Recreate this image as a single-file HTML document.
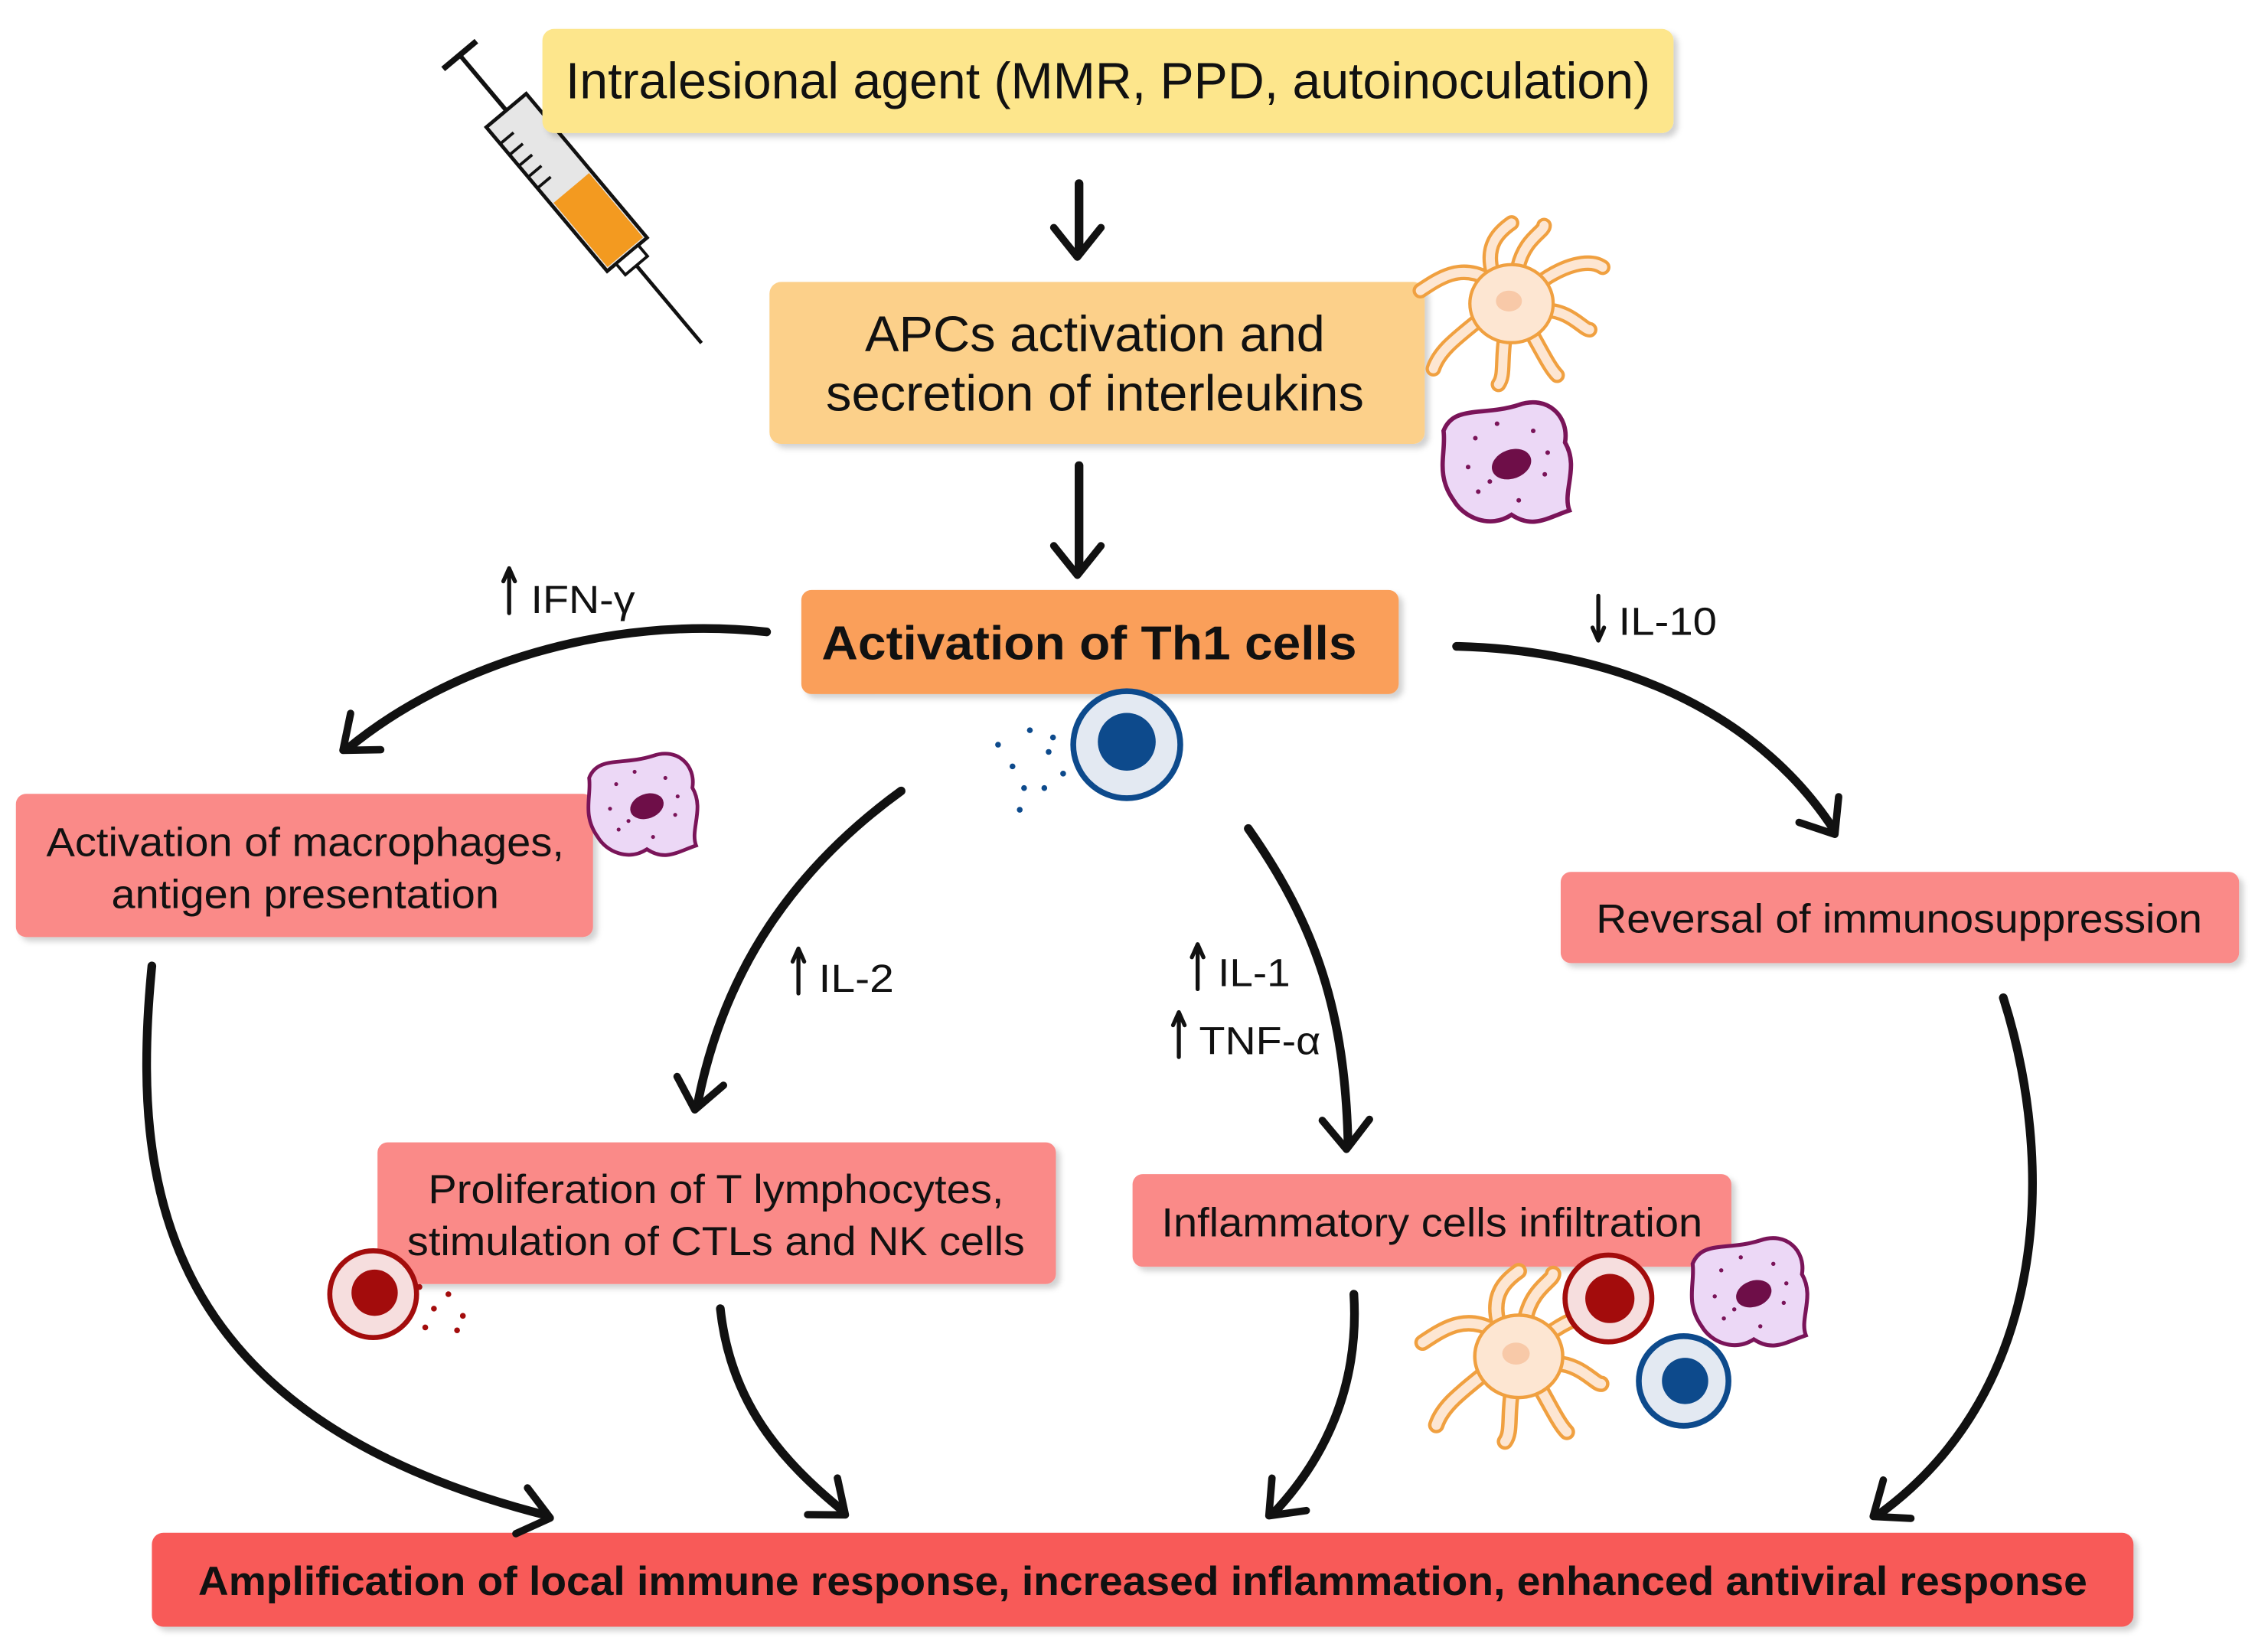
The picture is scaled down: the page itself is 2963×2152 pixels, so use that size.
<!DOCTYPE html>
<html><head><meta charset="utf-8"><style>
html,body{margin:0;padding:0;background:#fff}
svg{display:block}
text{font-family:"Liberation Sans",sans-serif;fill:#111}
</style></head><body>
<svg width="2963" height="2152" viewBox="0 0 1568 1139" preserveAspectRatio="none" xmlns="http://www.w3.org/2000/svg">
<defs>
<filter id="sh" x="-5%" y="-10%" width="110%" height="130%"><feDropShadow dx="3" dy="3" stdDeviation="2" flood-color="#000" flood-opacity="0.18"/></filter>
<marker id="ah" viewBox="0 0 20 20" refX="14" refY="10" markerWidth="12" markerHeight="12" markerUnits="userSpaceOnUse" orient="auto" style="overflow:visible">
<path d="M-4,-6 L16,10 L-4,26" fill="none" stroke="#111" stroke-width="5" stroke-linecap="round" stroke-linejoin="round" transform="scale(1.7) translate(-5,-3)"/>
</marker>
<g id="mac">
<path d="M10,-38 C30,-45 45,-30 42,-12 C52,5 40,22 45,35 C30,40 20,48 5,38 C-10,48 -28,40 -35,28 C-48,10 -40,-5 -42,-20 C-35,-38 -15,-30 10,-38Z" fill="#ecd8f6" stroke="#7a1459" stroke-width="3"/>
<ellipse cx="5" cy="3" rx="14" ry="10" fill="#6e0e48" transform="rotate(-20 5 3)"/>
<g fill="#7a1459"><circle cx="-20" cy="-15" r="1.6"/><circle cx="-25" cy="5" r="1.6"/><circle cx="-18" cy="22" r="1.6"/><circle cx="20" cy="-20" r="1.6"/><circle cx="28" cy="10" r="1.6"/><circle cx="-5" cy="-25" r="1.6"/><circle cx="10" cy="28" r="1.6"/><circle cx="-10" cy="15" r="1.6"/><circle cx="30" cy="-5" r="1.6"/></g>
</g>
<g id="dc">
<path d="M-20,-20 C-40,-30 -55,-20 -70,-10 M-15,-25 C-20,-45 -10,-55 0,-62 M5,-28 C10,-50 25,-55 25,-60 M20,-15 C40,-30 60,-35 70,-28 M25,5 C45,5 55,20 60,20 M15,22 C25,40 30,50 35,55 M-5,25 C-8,45 -5,55 -10,62 M-22,10 C-40,25 -55,35 -60,50" fill="none" stroke="#f0a040" stroke-width="12" stroke-linecap="round"/>
<path d="M-20,-20 C-40,-30 -55,-20 -70,-10 M-15,-25 C-20,-45 -10,-55 0,-62 M5,-28 C10,-50 25,-55 25,-60 M20,-15 C40,-30 60,-35 70,-28 M25,5 C45,5 55,20 60,20 M15,22 C25,40 30,50 35,55 M-5,25 C-8,45 -5,55 -10,62 M-22,10 C-40,25 -55,35 -60,50" fill="none" stroke="#fde6d2" stroke-width="7" stroke-linecap="round"/>
<ellipse cx="0" cy="0" rx="32" ry="30" fill="#fde6d2" stroke="#f0a040" stroke-width="2.5"/>
<ellipse cx="-2" cy="-2" rx="10" ry="8" fill="#f8c9a8"/>
</g>
<path id="up" d="M0,0 L0,-30 M-4,-22 L0,-31 L4,-22" fill="none" stroke="#111" stroke-width="2.8" stroke-linecap="round" stroke-linejoin="round"/>
</defs>

<!-- syringe -->
<g transform="translate(395,130) rotate(-40)">
<rect x="-18" y="-70" width="36" height="130" fill="#e6e6e6" stroke="#111" stroke-width="2.5"/>
<rect x="-16" y="0" width="32" height="58" fill="#f39a20"/>
<rect x="-10" y="60" width="20" height="10" fill="#fff" stroke="#111" stroke-width="2"/>
<line x1="0" y1="70" x2="0" y2="140" stroke="#111" stroke-width="2.5"/>
<line x1="0" y1="-70" x2="0" y2="-120" stroke="#111" stroke-width="3"/>
<line x1="-15" y1="-120" x2="15" y2="-120" stroke="#111" stroke-width="4"/>
<g stroke="#111" stroke-width="2"><line x1="-18" y1="-55" x2="-6" y2="-55"/><line x1="-18" y1="-45" x2="-6" y2="-45"/><line x1="-18" y1="-35" x2="-6" y2="-35"/><line x1="-18" y1="-25" x2="-6" y2="-25"/><line x1="-18" y1="-15" x2="-6" y2="-15"/></g>
</g>

<!-- boxes -->
<rect x="375" y="20" width="782" height="72" rx="8" fill="#fde68c" filter="url(#sh)"/>
<text x="766" y="68" font-size="35.5" text-anchor="middle" textLength="750" lengthAdjust="spacingAndGlyphs">Intralesional agent (MMR, PPD, autoinoculation)</text>

<rect x="532" y="195" width="453" height="112" rx="8" fill="#fcd08a" filter="url(#sh)"/>
<text x="757" y="243" font-size="35" text-anchor="middle" textLength="318" lengthAdjust="spacingAndGlyphs">APCs activation and</text>
<text x="757" y="284" font-size="35" text-anchor="middle" textLength="372" lengthAdjust="spacingAndGlyphs">secretion of interleukins</text>

<rect x="554" y="408" width="413" height="72" rx="7" fill="#fa9f5a" filter="url(#sh)"/>
<text x="753" y="456" font-size="33" font-weight="bold" text-anchor="middle" textLength="370" lengthAdjust="spacingAndGlyphs">Activation of Th1 cells</text>

<rect x="11" y="549" width="399" height="99" rx="7" fill="#fa8a88" filter="url(#sh)"/>
<text x="211" y="592" font-size="28" text-anchor="middle" textLength="358" lengthAdjust="spacingAndGlyphs">Activation of macrophages,</text>
<text x="211" y="628" font-size="28" text-anchor="middle" textLength="268" lengthAdjust="spacingAndGlyphs">antigen presentation</text>

<rect x="1079" y="603" width="469" height="63" rx="7" fill="#fa8a88" filter="url(#sh)"/>
<text x="1313" y="645" font-size="28" text-anchor="middle" textLength="419" lengthAdjust="spacingAndGlyphs">Reversal of immunosuppression</text>

<rect x="261" y="790" width="469" height="98" rx="7" fill="#fa8a88" filter="url(#sh)"/>
<text x="495" y="832" font-size="28" text-anchor="middle" textLength="398" lengthAdjust="spacingAndGlyphs">Proliferation of T lymphocytes,</text>
<text x="495" y="868" font-size="28" text-anchor="middle" textLength="427" lengthAdjust="spacingAndGlyphs">stimulation of CTLs and NK cells</text>

<rect x="783" y="812" width="414" height="64" rx="7" fill="#fa8a88" filter="url(#sh)"/>
<text x="990" y="855" font-size="28" text-anchor="middle" textLength="374" lengthAdjust="spacingAndGlyphs">Inflammatory cells infiltration</text>

<rect x="105" y="1060" width="1370" height="65" rx="8" fill="#f85a58" filter="url(#sh)"/>
<text x="790" y="1103" font-size="28" font-weight="bold" text-anchor="middle" textLength="1306" lengthAdjust="spacingAndGlyphs">Amplification of local immune response, increased inflammation, enhanced antiviral response</text>

<!-- arrows -->
<g fill="none" stroke="#111" stroke-width="6" stroke-linecap="round" marker-end="url(#ah)">
<path d="M746,127 L746,175"/>
<path d="M746,322 L746,395"/>
<path d="M530,437 C420,425 310,460 240,518"/>
<path d="M1007,447 C1130,450 1220,500 1268,574"/>
<path d="M623,547 C550,600 500,670 482,765"/>
<path d="M863,573 C910,640 930,700 932,792"/>
<path d="M105,668 C90,820 110,980 378,1048"/>
<path d="M498,905 C505,970 540,1010 583,1045"/>
<path d="M936,895 C940,960 915,1010 880,1047"/>
<path d="M1385,690 C1420,800 1420,960 1298,1048"/>
</g>

<!-- labels -->
<use href="#up" transform="translate(352,424)"/>
<use href="#up" transform="translate(1105,412) rotate(180)"/>
<use href="#up" transform="translate(552,687)"/>
<use href="#up" transform="translate(828,684)"/>
<use href="#up" transform="translate(815,731)"/>
<g font-size="27">
<text x="367" y="424" textLength="72" lengthAdjust="spacingAndGlyphs">IFN-γ</text>
<text x="1119" y="439" textLength="68" lengthAdjust="spacingAndGlyphs">IL-10</text>
<text x="566" y="686" textLength="52" lengthAdjust="spacingAndGlyphs">IL-2</text>
<text x="842" y="682" textLength="50" lengthAdjust="spacingAndGlyphs">IL-1</text>
<text x="829" y="729" textLength="84" lengthAdjust="spacingAndGlyphs">TNF-α</text>
</g>

<!-- cells -->
<use href="#dc" transform="translate(1045,210) scale(0.9)"/>
<use href="#mac" transform="translate(1040,318) scale(1.0)"/>
<use href="#mac" transform="translate(443,555) scale(0.85)"/>
<use href="#dc" transform="translate(1050,938) scale(0.95)"/>
<use href="#mac" transform="translate(1208,892) scale(0.9)"/>
<circle cx="779" cy="515" r="37" fill="#e3e9f2" stroke="#0d4a8c" stroke-width="4"/>
<circle cx="779" cy="513" r="20" fill="#0d4a8c"/>
<g fill="#0d4a8c"><circle cx="690" cy="515" r="2"/><circle cx="700" cy="530" r="2"/><circle cx="712" cy="505" r="2"/><circle cx="708" cy="545" r="2"/><circle cx="725" cy="520" r="2"/><circle cx="722" cy="545" r="2"/><circle cx="735" cy="535" r="2"/><circle cx="705" cy="560" r="2"/><circle cx="728" cy="510" r="2"/></g>
<circle cx="1164" cy="955" r="31" fill="#e3e9f2" stroke="#0d4a8c" stroke-width="4"/>
<circle cx="1165" cy="955" r="16" fill="#0d4a8c"/>
<circle cx="258" cy="895" r="30" fill="#f6dede" stroke="#a30c0c" stroke-width="3.5"/>
<circle cx="259" cy="894" r="16" fill="#a30c0c"/>
<g fill="#a30c0c"><circle cx="290" cy="890" r="2"/><circle cx="300" cy="905" r="2"/><circle cx="310" cy="895" r="2"/><circle cx="320" cy="910" r="2"/><circle cx="294" cy="918" r="2"/><circle cx="316" cy="920" r="2"/></g>
<circle cx="1112" cy="898" r="30" fill="#f6dede" stroke="#a30c0c" stroke-width="3.5"/>
<circle cx="1113" cy="898" r="17" fill="#a30c0c"/>
</svg>
</body></html>
